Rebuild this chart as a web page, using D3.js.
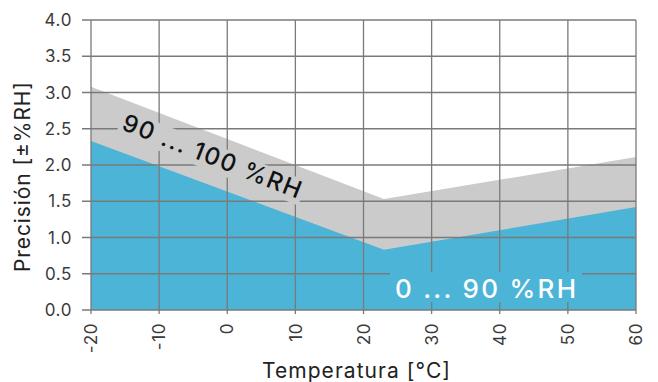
<!DOCTYPE html>
<html>
<head>
<meta charset="utf-8">
<script src="https://cdn.jsdelivr.net/npm/d3@7"></script>
<style>
  body { margin: 0; background: #fff; }
  text { font-family: Inter, "Open Sans", sans-serif; }
</style>
</head>
<body>
<svg id="chart" width="658" height="382"></svg>
<script>
// temperatura (°C) and precisión (±%RH)
var temps = [-20, 23, 60];
var upper = [3.08, 1.53, 2.11];   // 90 ... 100 %RH
var lower = [2.33, 0.83, 1.42];   // 0 ... 90 %RH
var xTicks = [-20, -10, 0, 10, 20, 30, 40, 50, 60];
var yTicks = [0, 0.5, 1, 1.5, 2, 2.5, 3, 3.5, 4];

var svg = d3.select("#chart");
var x = d3.scaleLinear().domain([-20, 60]).range([91, 636]);
var y = d3.scaleLinear().domain([0, 4]).range([310, 20]);

var rows = temps.map((t, i) => ({t: t, up: upper[i], lo: lower[i]}));

var areaUp = d3.area().x(d => x(d.t)).y0(y(0)).y1(d => y(d.up));
var areaLo = d3.area().x(d => x(d.t)).y0(y(0)).y1(d => y(d.lo));

svg.append("path").datum(rows).attr("d", areaUp).attr("fill", "#cbcbcb");
svg.append("path").datum(rows).attr("d", areaLo).attr("fill", "#4bb4d7");

// grid
var gridColor = "#7a7a7a";
svg.append("g").selectAll("line").data(yTicks).join("line")
    .attr("x1", 82).attr("x2", x(60))
    .attr("y1", d => y(d)).attr("y2", d => y(d))
    .attr("stroke", gridColor).attr("stroke-width", 1.3);
svg.append("g").selectAll("line").data(xTicks).join("line")
    .attr("x1", d => x(d)).attr("x2", d => x(d))
    .attr("y1", y(4)).attr("y2", 314)
    .attr("stroke", gridColor).attr("stroke-width", 1.3);

// tick labels
svg.append("g").selectAll("text").data(yTicks).join("text")
    .attr("x", 72).attr("y", d => y(d))
    .attr("dy", "0.36em")
    .attr("text-anchor", "end")
    .attr("font-size", 17)
    .attr("letter-spacing", 0.6)
    .attr("fill", "#3a3a3a")
    .text(d => d3.format(".1f")(d));

svg.append("g").selectAll("text").data(xTicks).join("text")
    .attr("transform", d => `translate(${x(d)}, 323) rotate(-90)`)
    .attr("dy", "0.36em")
    .attr("text-anchor", "end")
    .attr("font-size", 17)
    .attr("letter-spacing", 0.6)
    .attr("fill", "#3a3a3a")
    .text(d => d);

// axis titles
svg.append("text")
    .attr("x", 262).attr("y", 378)
    .attr("font-size", 21)
    .attr("textLength", 188).attr("lengthAdjust", "spacing")
    .attr("fill", "#222")
    .text("Temperatura [°C]");

svg.append("text")
    .attr("transform", "translate(30, 272) rotate(-90)")
    .attr("font-size", 21)
    .attr("textLength", 190).attr("lengthAdjust", "spacing")
    .attr("fill", "#222")
    .text("Precisión [±%RH]");

// band labels
var g1 = svg.append("g").attr("transform", "translate(209, 164) rotate(21.5)");
g1.append("rect")
    .attr("x", -98).attr("y", -20).attr("width", 196).attr("height", 26)
    .attr("fill", "#cbcbcb");
g1.append("text")
    .attr("x", -95)
    .attr("font-size", 24)
    .attr("font-weight", 500)
    .attr("textLength", 190).attr("lengthAdjust", "spacing")
    .attr("fill", "#111")
    .text("90 ... 100 %RH");

svg.append("rect")
    .attr("x", 390).attr("y", 272).attr("width", 192).attr("height", 30)
    .attr("fill", "#4bb4d7");
svg.append("text")
    .attr("x", 395).attr("y", 298)
    .attr("font-size", 26)
    .attr("font-weight", 500)
    .attr("textLength", 181).attr("lengthAdjust", "spacing")
    .attr("fill", "#fff")
    .text("0 ... 90 %RH");
</script>
</body>
</html>
